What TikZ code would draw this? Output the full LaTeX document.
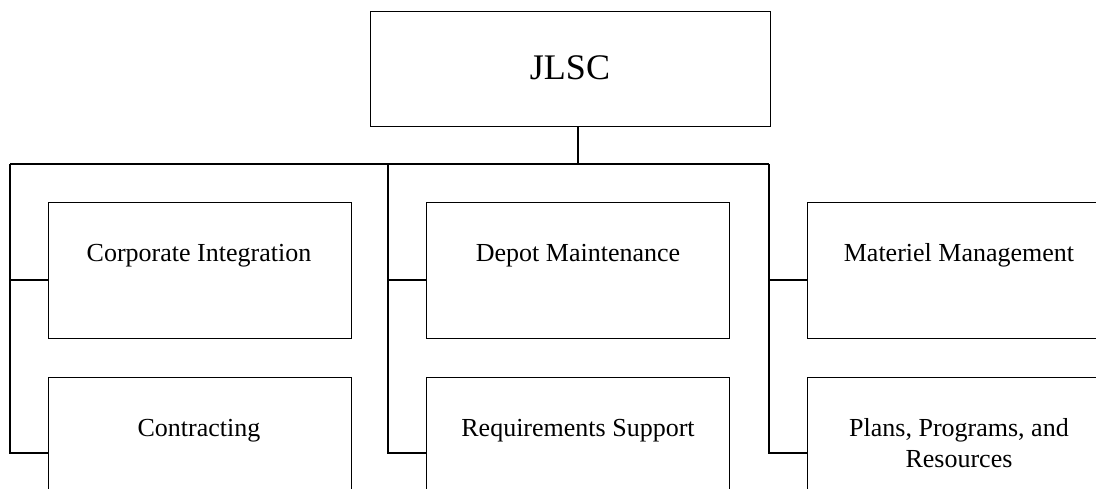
\documentclass[tikz,border=0pt]{standalone}
\usepackage{fontspec}
\setmainfont{Liberation Serif}
\begin{document}
\begin{tikzpicture}[x=1pt,y=-1pt,
  line/.style={draw=black, line width=1.1pt},
  unitbox/.style={line, rectangle, minimum width=303pt, minimum height=136pt, inner sep=0pt, anchor=north west},
  lowbox/.style={line, rectangle, minimum width=303pt, minimum height=150pt, inner sep=0pt, anchor=north west},
  lbl/.style={font=\fontsize{26}{31}\selectfont, align=center, anchor=base, inner sep=0pt},
  toplbl/.style={font=\fontsize{36}{40}\selectfont, anchor=base, inner sep=0pt}]
\useasboundingbox (0,0) rectangle (1096,489);
\fill[white] (0,0) rectangle (1096,489);
\clip (0,0) rectangle (1096,489);

% top box
\node[line, rectangle, minimum width=400pt, minimum height=115pt, inner sep=0pt, anchor=north west] (jlsc) at (370,11) {};
\node[toplbl] (jlsct) at (570,80) {JLSC};

% child boxes
\node[unitbox] (ci) at (48,202) {};
\node[lowbox]  (co) at (48,377) {};
\node[unitbox] (dm) at (426,202) {};
\node[lowbox]  (rs) at (426,377) {};
\node[unitbox] (mm) at (807,202) {};
\node[lowbox]  (pp) at (807,377) {};

% labels
\node[lbl] (cit) at (199,262) {Corporate Integration};
\node[lbl] (cot) at (199,436) {Contracting};
\node[lbl] (dmt) at (578,262) {Depot Maintenance};
\node[lbl] (rst) at (578,436) {Requirements Support};
\node[lbl] (mmt) at (959,262) {Materiel Management};
\node[lbl, anchor=north] (ppt) at (959,418) {Plans, Programs, and\\Resources};

% connectors
\coordinate (bus) at (578,164);
\coordinate (t1) at (10,164);
\coordinate (t2) at (388,164);
\coordinate (t3) at (769,164);
\coordinate (r1) at (0,280);
\coordinate (r2) at (0,453);

\draw[line] (jlsc.south -| bus) -- (bus);
\draw[line] (t1) -- (t3);
\draw[line] (t1) |- (co.west |- r2);
\draw[line] (t1 |- r1) -- (ci.west |- r1);
\draw[line] (t2) |- (rs.west |- r2);
\draw[line] (t2 |- r1) -- (dm.west |- r1);
\draw[line] (t3) |- (pp.west |- r2);
\draw[line] (t3 |- r1) -- (mm.west |- r1);
\end{tikzpicture}
\end{document}
